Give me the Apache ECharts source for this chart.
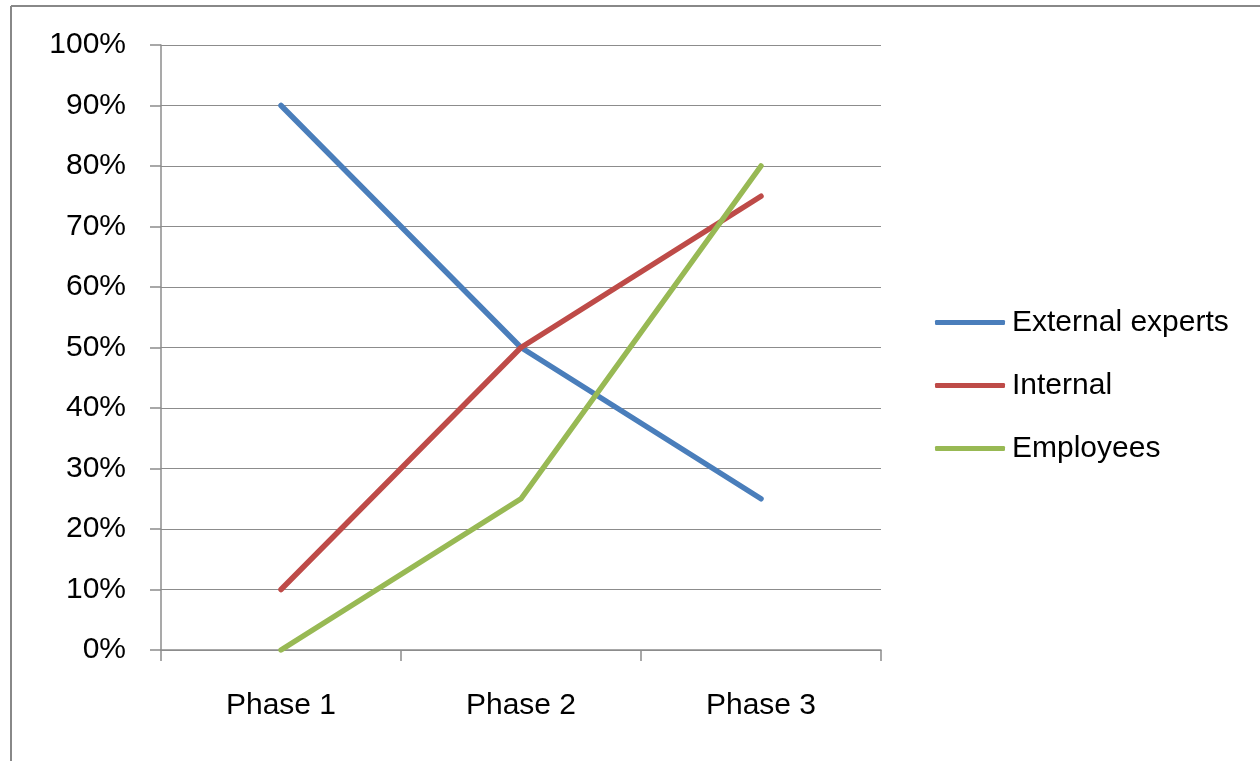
<!DOCTYPE html>
<html>
<head>
<meta charset="utf-8">
<script src="https://cdn.jsdelivr.net/npm/echarts@6/dist/echarts.min.js"></script>
<style>
  html, body { margin: 0; padding: 0; background: #fff; }
  #chart { width: 1260px; height: 761px; }
</style>
</head>
<body>
<div id="chart"></div>
<script>
// Phases along the horizontal axis
const phases = ['Phase 1', 'Phase 2', 'Phase 3'];

// Share of involvement per group (percent)
const externalExperts = [90, 50, 25];
const internal = [10, 50, 75];
const employees = [0, 25, 80];

// Y axis range and step (percent)
const yMin = 0;
const yMax = 100;
const yStep = 10;

const FONT = '"Liberation Sans", Arial, sans-serif';
const AXIS_GRAY = '#8c8c8c';

const chart = echarts.init(document.getElementById('chart'), null, { renderer: 'canvas' });

const lineSeries = (name, data, color) => ({
  name,
  type: 'line',
  data,
  symbol: 'none',
  smooth: false,
  lineStyle: { color, width: 5.5, cap: 'round', join: 'round' },
  itemStyle: { color },
  emphasis: { disabled: true },
  animation: false
});

chart.setOption({
  animation: false,
  backgroundColor: '#ffffff',
  grid: { left: 161, right: 379, top: 45, bottom: 111, containLabel: false },
  graphic: [
    // outer frame: top and left edges
    { type: 'line', shape: { x1: 11, y1: 6, x2: 1260, y2: 6 }, style: { stroke: '#888', lineWidth: 2 } },
    { type: 'line', shape: { x1: 11, y1: 6, x2: 11, y2: 761 }, style: { stroke: '#888', lineWidth: 2 } }
  ],
  legend: {
    orient: 'vertical',
    left: 935,
    top: 307,
    padding: 0,
    itemWidth: 70,
    itemHeight: 5,
    itemGap: 32,
    icon: 'roundRect',
    selectedMode: false,
    textStyle: { fontFamily: FONT, fontSize: 30, color: '#000', lineHeight: 31, padding: [0, 0, 0, 2] },
    data: ['External experts', 'Internal', 'Employees']
  },
  xAxis: {
    type: 'category',
    data: phases,
    boundaryGap: true,
    axisLine: { show: true, lineStyle: { color: AXIS_GRAY, width: 1.5 } },
    axisTick: { show: true, length: 11, alignWithLabel: false, lineStyle: { color: AXIS_GRAY, width: 1.5 } },
    axisLabel: { fontFamily: FONT, fontSize: 30, color: '#000', margin: 41 },
    splitLine: { show: false }
  },
  yAxis: {
    type: 'value',
    min: yMin,
    max: yMax,
    interval: yStep,
    axisLine: { show: true, lineStyle: { color: AXIS_GRAY, width: 1.5 } },
    axisTick: { show: true, length: 11, lineStyle: { color: AXIS_GRAY, width: 1.5 } },
    axisLabel: { fontFamily: FONT, fontSize: 30, color: '#000', margin: 35, formatter: v => v + '%' },
    splitLine: { show: true, lineStyle: { color: AXIS_GRAY, width: 1.2 } }
  },
  series: [
    lineSeries('External experts', externalExperts, '#4a7ebb'),
    lineSeries('Internal', internal, '#be4b48'),
    lineSeries('Employees', employees, '#98b954')
  ]
});
</script>
</body>
</html>
